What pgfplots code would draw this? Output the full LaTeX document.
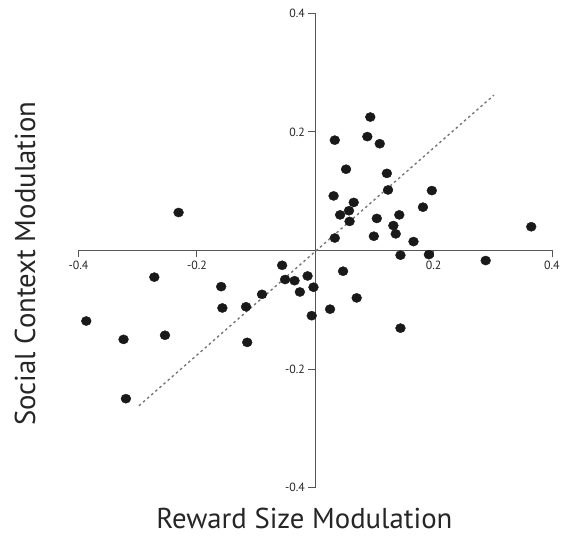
\documentclass[border=0pt]{standalone}
\usepackage{pgfplots}
\pgfplotsset{compat=1.18}
\usepackage{fontspec}
\setmainfont{PT Sans}
\definecolor{axgray}{HTML}{555555}
\definecolor{dashgray}{HTML}{777777}
\begin{document}
\begin{tikzpicture}
\begin{axis}[
  scale only axis,
  width=476bp, height=477bp,
  xmin=-0.4, xmax=0.4, ymin=-0.4, ymax=0.4,
  axis lines=middle,
  axis line style={-, axgray, line width=0.9bp},
  xtick={-0.4,-0.2,0.2,0.4},
  ytick={-0.4,-0.2,0.2,0.4},
  tick align=outside,
  major tick length=7bp,
  tick style={axgray, line width=0.9bp},
  /pgf/number format/assume math mode=true,
  /pgf/number format/fixed,
  /pgf/number format/precision=1,
  ticklabel style={font=\fontsize{12}{14}\selectfont, text=black!85},
  every axis x label/.style={at={(axis description cs:0.477,-0.064)}, anchor=center, font=\fontsize{29}{33}\selectfont, text=black!85},
  every axis y label/.style={at={(axis description cs:-0.113,0.472)}, anchor=center, rotate=90, font=\fontsize{29}{33}\selectfont, text=black!85},
  xlabel={Reward Size Modulation},
  ylabel={Social Context Modulation},
  clip=false,
]
\path (rel axis cs:-0.166,-0.104) rectangle (rel axis cs:1.0168,1.028);
\addplot[dashgray, line width=1.4bp, dash pattern=on 2.5bp off 3bp] coordinates {(-0.298,-0.262) (0.302,0.262)};
\addplot[only marks, mark=*, mark size=4.6bp, mark options={fill=black!90, draw=black!90, xscale=1.08}] coordinates {
(-0.231,0.064) (0.093,0.225) (0.033,0.186) (0.088,0.192) (0.109,0.180)
(0.052,0.137) (0.121,0.130) (0.123,0.102) (0.197,0.101) (0.031,0.092)
(0.065,0.081) (0.182,0.073) (0.057,0.067) (0.042,0.060) (0.104,0.054)
(0.142,0.060) (0.058,0.049) (0.132,0.042) (0.365,0.040) (0.033,0.021)
(0.099,0.024) (0.136,0.028) (0.166,0.015)
(0.144,-0.008) (0.192,-0.007) (0.288,-0.017) (-0.056,-0.025) (-0.272,-0.045)
(0.047,-0.035) (-0.013,-0.043) (-0.051,-0.049) (-0.035,-0.051) (-0.003,-0.062)
(-0.159,-0.061) (-0.090,-0.074) (-0.026,-0.070) (0.070,-0.080) (-0.157,-0.097)
(-0.117,-0.095) (0.025,-0.099) (-0.006,-0.110) (-0.387,-0.119) (-0.254,-0.143)
(-0.324,-0.150) (-0.115,-0.155) (0.144,-0.131) (-0.320,-0.250)
};
\end{axis}
\end{tikzpicture}
\end{document}
